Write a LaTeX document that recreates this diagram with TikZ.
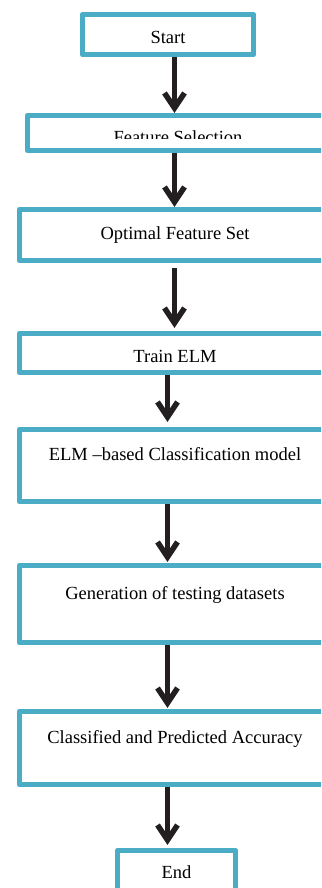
\documentclass[tikz,border=0pt]{standalone}
\usepackage{fontspec}
\setmainfont{Liberation Serif}
\usepackage{tikz}
\usetikzlibrary{arrows.meta}
\usepackage{xcolor}
\definecolor{boxblue}{HTML}{4BACC6}
\definecolor{arrowblack}{HTML}{231F20}

\begin{document}
\begin{tikzpicture} [x=1pt, y=-1pt,
		flowbox/.style={draw=boxblue, line width=4.6pt, line join=round, fill=white, rectangle, inner sep=0pt, font=\fontsize{18.5}{22}\selectfont},
		toptext/.style={text height=12.5pt, text depth=22.5pt},
		lowtext/.style={text height=18.5pt, text depth=0pt},
		flowarrow/.style={draw=arrowblack, line width=5.5pt, -{Straight Barb[length=15pt, width=20pt]}}]
				\path[use as bounding box, clip] (0,0) rectangle (321,888);
				\node [flowbox, lowtext, minimum width=171.5pt, minimum height=40.5pt] (start) at (168,34.5) {Start};
				\node [flowbox, minimum width=310pt, minimum height=35.5pt] (fsel) at (182.25,133) {};
				\begin{scope}
					\clip (27,118) rectangle (321,138.3);
					\node [anchor=base, inner sep=0pt, font=\fontsize{18.5}{22}\selectfont] (fseltext) at (178,143.2) {Feature Selection};
				\end{scope}
				\node [flowbox, minimum width=311.5pt, minimum height=51.5pt] (optset) at (175,235) {Optimal Feature Set};
				\node [flowbox, lowtext, minimum width=311.5pt, minimum height=39.5pt] (train) at (175,353) {Train ELM};
				\node [flowbox, toptext, minimum width=311.5pt, minimum height=72.5pt] (model) at (175,465.5) {ELM --based Classification model};
				\node [flowbox, toptext, minimum width=311.5pt, minimum height=77.5pt] (testgen) at (175,604) {Generation of testing datasets};
				\node [flowbox, toptext, minimum width=311.5pt, minimum height=73.5pt] (accuracy) at (175,748) {Classified and Predicted Accuracy};
				\node [flowbox, minimum width=118.5pt, minimum height=44.5pt] (finish) at (176.5,872.5) {End};
				\draw [flowarrow] ([xshift=6.5pt]start.south) -- ([xshift=6.5pt]start.south |- fsel.north);
				\draw [flowarrow] (fsel.south -| 174.5,0) -- (optset.north -| 174.5,0);
				\draw [flowarrow, shorten <=5pt, shorten >=3pt] (optset.south -| 174.5,0) -- (train.north -| 174.5,0);
				\draw [flowarrow, shorten >=5pt] (train.south -| 167.5,0) -- (model.north -| 167.5,0);
				\draw [flowarrow, shorten >=1pt] (model.south -| 167.5,0) -- (testgen.north -| 167.5,0);
				\draw [flowarrow, shorten >=1pt] (testgen.south -| 167.5,0) -- (accuracy.north -| 167.5,0);
				\draw [flowarrow, shorten >=3pt] (accuracy.south -| 167.5,0) -- (finish.north -| 167.5,0);
			\end{tikzpicture}
\end{document}
